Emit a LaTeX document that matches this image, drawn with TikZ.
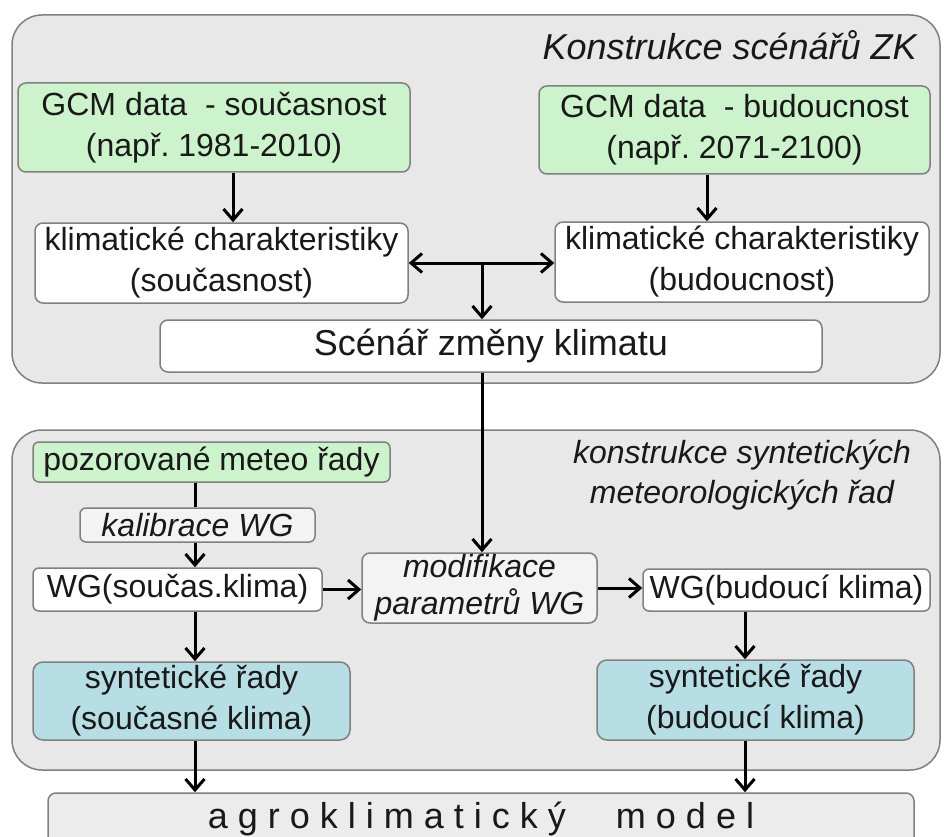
\documentclass[tikz,border=0pt]{standalone}
\usepackage{fontspec}
\setmainfont{Liberation Sans}
\usetikzlibrary{arrows.meta}
\frenchspacing
\definecolor{panelfill}{RGB}{232,232,232}
\definecolor{panelline}{RGB}{128,128,128}
\definecolor{greenfill}{RGB}{204,243,204}
\definecolor{bluefill}{RGB}{183,222,228}
\definecolor{lightfill}{RGB}{243,243,243}
\definecolor{agrofill}{RGB}{236,236,236}
\definecolor{txt}{RGB}{25,25,25}
\tikzset{
  panel/.style={draw=panelline, line width=1.5pt, fill=panelfill, rounded corners=30pt},
  box/.style={draw=panelline, line width=1.5pt, rounded corners=8pt, inner sep=0pt, align=center,
     text=txt, font=\fontsize{32}{41}\selectfont},
  greenbox/.style={box, fill=greenfill},
  whitebox/.style={box, fill=white},
  bluebox/.style={box, fill=bluefill},
  lightbox/.style={box, fill=lightfill, font=\fontsize{32}{37}\selectfont\itshape},
  arr/.style={line width=3pt, -{Straight Barb[length=11pt,width=19pt,line width=3pt]}},
  ln/.style={line width=3pt},
  ttl/.style={inner sep=0pt, align=center, text=txt, font=\fontsize{36}{40}\selectfont\itshape},
}
\begin{document}
\begin{tikzpicture}[x=1pt,y=-1pt]
\clip (0,0) rectangle (944,837);
\fill[white] (0,0) rectangle (944,837);
% panels
\draw[panel] (12,15) rectangle (940,383);
\draw[panel] (12,430) rectangle (940,770);
% titles
\node[ttl, anchor=east] (t1) at (917,45) {Konstrukce scénářů ZK};
\node[ttl, font=\fontsize{32}{40}\selectfont\itshape] (t2) at (742,475) {konstrukce syntetických\\meteorologických řad};
% top nodes
\node[greenbox, minimum width=392pt, minimum height=89pt] (gcmA) at (214,127.5) {GCM data~ - současnost\\(např. 1981-2010)};
\node[greenbox, minimum width=391pt, minimum height=88pt] (gcmB) at (734.5,130) {GCM data~ - budoucnost\\(např. 2071-2100)};
\node[whitebox, minimum width=373pt, minimum height=80pt] (klimA) at (221.5,263) {klimatické charakteristiky\\(současnost)};
\node[whitebox, minimum width=374pt, minimum height=80pt] (klimB) at (742,262) {klimatické charakteristiky\\(budoucnost)};
\node[whitebox, minimum width=662pt, minimum height=52pt, font=\fontsize{36}{40}\selectfont] (scen) at (491,346) {Scénář změny klimatu};
% bottom nodes
\node[greenbox, minimum width=357pt, minimum height=40pt, rounded corners=6pt] (poz) at (211.5,462) {pozorované meteo řady};
\node[lightbox, minimum width=235pt, minimum height=34pt, rounded corners=6pt] (kal) at (197.5,525) {kalibrace WG};
\node[whitebox, minimum width=289pt, minimum height=43pt, rounded corners=6pt] (wgA) at (177.5,589.5) {WG(součas.klima)};
\node[lightbox, minimum width=235pt, minimum height=70pt] (mod) at (479.5,588) {modifikace\\parametrů WG};
\node[whitebox, minimum width=287pt, minimum height=42pt, rounded corners=6pt] (wgB) at (786.5,590) {WG(budoucí klima)};
\node[bluebox, minimum width=317pt, minimum height=78pt, rounded corners=10pt] (synA) at (191.5,701) {syntetické řady\\(současné klima)};
\node[bluebox, minimum width=317pt, minimum height=80pt, rounded corners=10pt] (synB) at (755.5,700) {syntetické řady\\(budoucí klima)};
\node[box, fill=agrofill, minimum width=866pt, minimum height=52pt, font=\fontsize{36}{40}\selectfont] (agro) at (481,819) {a g r o k l i m a t i c k ý\hspace{50pt}m o d e l};
% column coordinates
\coordinate (c1) at (233,0);
\coordinate (c2) at (707,0);
\coordinate (c3) at (482,0);
\coordinate (c4) at (195,0);
\coordinate (c5) at (745,0);
% connectors
\draw[arr] (gcmA.south -| c1) -- (klimA.north -| c1);
\draw[arr] (gcmB.south -| c2) -- (klimB.north -| c2);
\draw[line width=3pt, {Straight Barb[length=11pt,width=19pt,line width=3pt]}-{Straight Barb[length=11pt,width=19pt,line width=3pt]}] (klimA.east) -- (klimA.east -| klimB.west);
\draw[arr] (klimA.east -| c3) -- (scen.north -| c3);
\draw[arr] (scen.south -| c3) -- (mod.north -| c3);
\draw[ln] (poz.south -| c4) -- (kal.north -| c4);
\draw[arr] (kal.south -| c4) -- (wgA.north -| c4);
\draw[arr] (wgA.south -| c4) -- (synA.north -| c4);
\draw[arr] (synA.south -| c4) -- (agro.north -| c4);
\draw[arr] (wgA.east) -- (wgA.east -| mod.west);
\draw[arr] (mod.east) -- (mod.east -| wgB.west);
\draw[arr] (wgB.south -| c5) -- (synB.north -| c5);
\draw[arr] (synB.south -| c5) -- (agro.north -| c5);
\end{tikzpicture}
\end{document}
